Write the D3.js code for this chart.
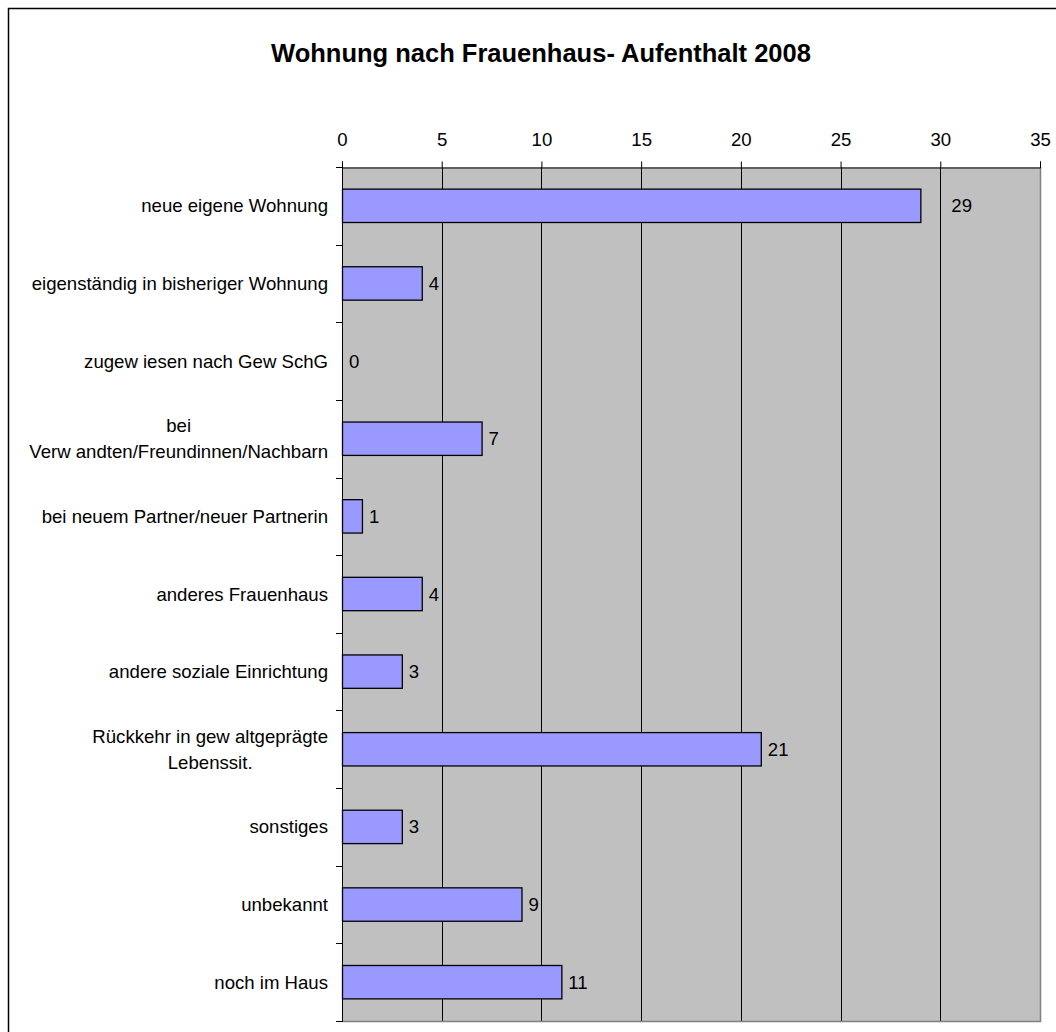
<!DOCTYPE html>
<html>
<head>
<meta charset="utf-8">
<script src="https://cdn.jsdelivr.net/npm/d3@7"></script>
<style>
  body { margin: 0; background: #fff; }
  text { font-family: "Liberation Sans", Arial, sans-serif; fill: #000; }
</style>
</head>
<body>
<div id="chart"></div>
<script>
// data
var categories = [
  ["neue eigene Wohnung"],
  ["eigenständig in bisheriger Wohnung"],
  ["zugew iesen nach Gew SchG"],
  ["bei", "Verw andten/Freundinnen/Nachbarn"],
  ["bei neuem Partner/neuer Partnerin"],
  ["anderes Frauenhaus"],
  ["andere soziale Einrichtung"],
  ["Rückkehr in gew altgeprägte", "Lebenssit."],
  ["sonstiges"],
  ["unbekannt"],
  ["noch im Haus"]
];
var values = [29, 4, 0, 7, 1, 4, 3, 21, 3, 9, 11];
var xTicks = [0, 5, 10, 15, 20, 25, 30, 35];
var title = "Wohnung nach Frauenhaus- Aufenthalt 2008";

var W = 1056, H = 1032;
var plot = {left: 342, right: 1040, top: 167, bottom: 1021};
var fontSize = "18.6px";

var svg = d3.select("#chart").append("svg")
    .attr("width", W)
    .attr("height", H);

svg.append("rect").attr("width", W).attr("height", H).attr("fill", "#fff");

// outer frame (cut off at right and bottom)
svg.append("rect")
    .attr("x", 8.5).attr("y", 8.5)
    .attr("width", W + 20).attr("height", H + 20)
    .attr("fill", "none").attr("stroke", "#000").attr("stroke-width", 1.5);

svg.append("text")
    .attr("x", 541).attr("y", 62)
    .attr("text-anchor", "middle")
    .style("font-size", "25.5px").style("font-weight", "bold")
    .text(title);

var keys = categories.map(function(d, i) { return i; });

var x = d3.scaleLinear().domain([0, 35]).range([plot.left, plot.right]);
var y = d3.scaleBand().domain(keys).range([plot.top, plot.bottom])
    .paddingInner(0.57).paddingOuter(0.285);

// plot background
svg.append("rect")
    .attr("x", plot.left).attr("y", plot.top)
    .attr("width", plot.right - plot.left).attr("height", plot.bottom - plot.top)
    .attr("fill", "#c0c0c0");

// gridlines
svg.selectAll("line.grid")
    .data(xTicks.slice(1, -1))
    .enter().append("line")
    .attr("class", "grid")
    .attr("x1", function(d) { return Math.round(x(d)) + 0.5; })
    .attr("x2", function(d) { return Math.round(x(d)) + 0.5; })
    .attr("y1", plot.top).attr("y2", plot.bottom)
    .attr("stroke", "#000").attr("stroke-width", 1);

// right / bottom border of plot area
svg.append("path")
    .attr("d", "M" + (plot.right + 0.5) + "," + plot.top + "V" + (plot.bottom + 0.5) + "H" + plot.left)
    .attr("fill", "none").attr("stroke", "#808080").attr("stroke-width", 1.5);

// top axis
var xAxis = d3.axisTop(x).tickValues(xTicks).tickSize(6).tickPadding(16);
var gx = svg.append("g")
    .attr("transform", "translate(0," + (plot.top + 0.5) + ")")
    .call(xAxis);
gx.select(".domain").attr("stroke", "#000");
gx.selectAll(".tick line").attr("stroke", "#000");
gx.selectAll(".tick text")
    .style("font-size", fontSize)
    .style("font-family", "Liberation Sans, Arial, sans-serif")
    .attr("fill", "#000");

// left axis line + ticks at band boundaries
svg.append("line")
    .attr("x1", plot.left + 0.5).attr("x2", plot.left + 0.5)
    .attr("y1", plot.top).attr("y2", plot.bottom + 1)
    .attr("stroke", "#000");
var step = y.step();
var bounds = d3.range(categories.length + 1).map(function(i) { return plot.top + i * step; });
svg.selectAll("line.ytick")
    .data(bounds)
    .enter().append("line")
    .attr("class", "ytick")
    .attr("x1", plot.left - 6).attr("x2", plot.left)
    .attr("y1", function(d) { return Math.round(d) + 0.5; })
    .attr("y2", function(d) { return Math.round(d) + 0.5; })
    .attr("stroke", "#000");

// bars
svg.selectAll("rect.bar")
    .data(values)
    .enter().append("rect")
    .attr("class", "bar")
    .attr("x", x(0) + 0.5)
    .attr("y", function(d, i) { return y(i); })
    .attr("width", function(d) { return Math.max(0, x(d) - x(0)); })
    .attr("height", y.bandwidth())
    .attr("fill", function(d) { return d > 0 ? "#9999ff" : "none"; })
    .attr("stroke", function(d) { return d > 0 ? "#000" : "none"; })
    .attr("stroke-width", 1.3);

// value labels
svg.selectAll("text.val")
    .data(values)
    .enter().append("text")
    .attr("class", "val")
    .attr("x", function(d) { return x(d) + (d === 29 ? 31 : 7); })
    .attr("y", function(d, i) { return y(i) + y.bandwidth() / 2; })
    .attr("dy", "0.35em")
    .style("font-size", fontSize)
    .text(function(d) { return d; });

// category labels
var labelRight = 328, lineH = 26;
var cat = svg.selectAll("g.cat")
    .data(categories)
    .enter().append("g")
    .attr("class", "cat");
cat.each(function(lines, i) {
  var g = d3.select(this);
  var cy = y(i) + y.bandwidth() / 2;
  var texts = g.selectAll("text").data(lines).enter().append("text")
      .attr("y", function(d, j) { return cy + (j - (lines.length - 1) / 2) * lineH; })
      .attr("dy", "0.35em")
      .style("font-size", fontSize)
      .attr("text-anchor", "middle")
      .text(function(d) { return d; });
  var maxW = 0;
  texts.each(function() { maxW = Math.max(maxW, this.getComputedTextLength()); });
  texts.attr("x", labelRight - maxW / 2);
});
</script>
</body>
</html>
